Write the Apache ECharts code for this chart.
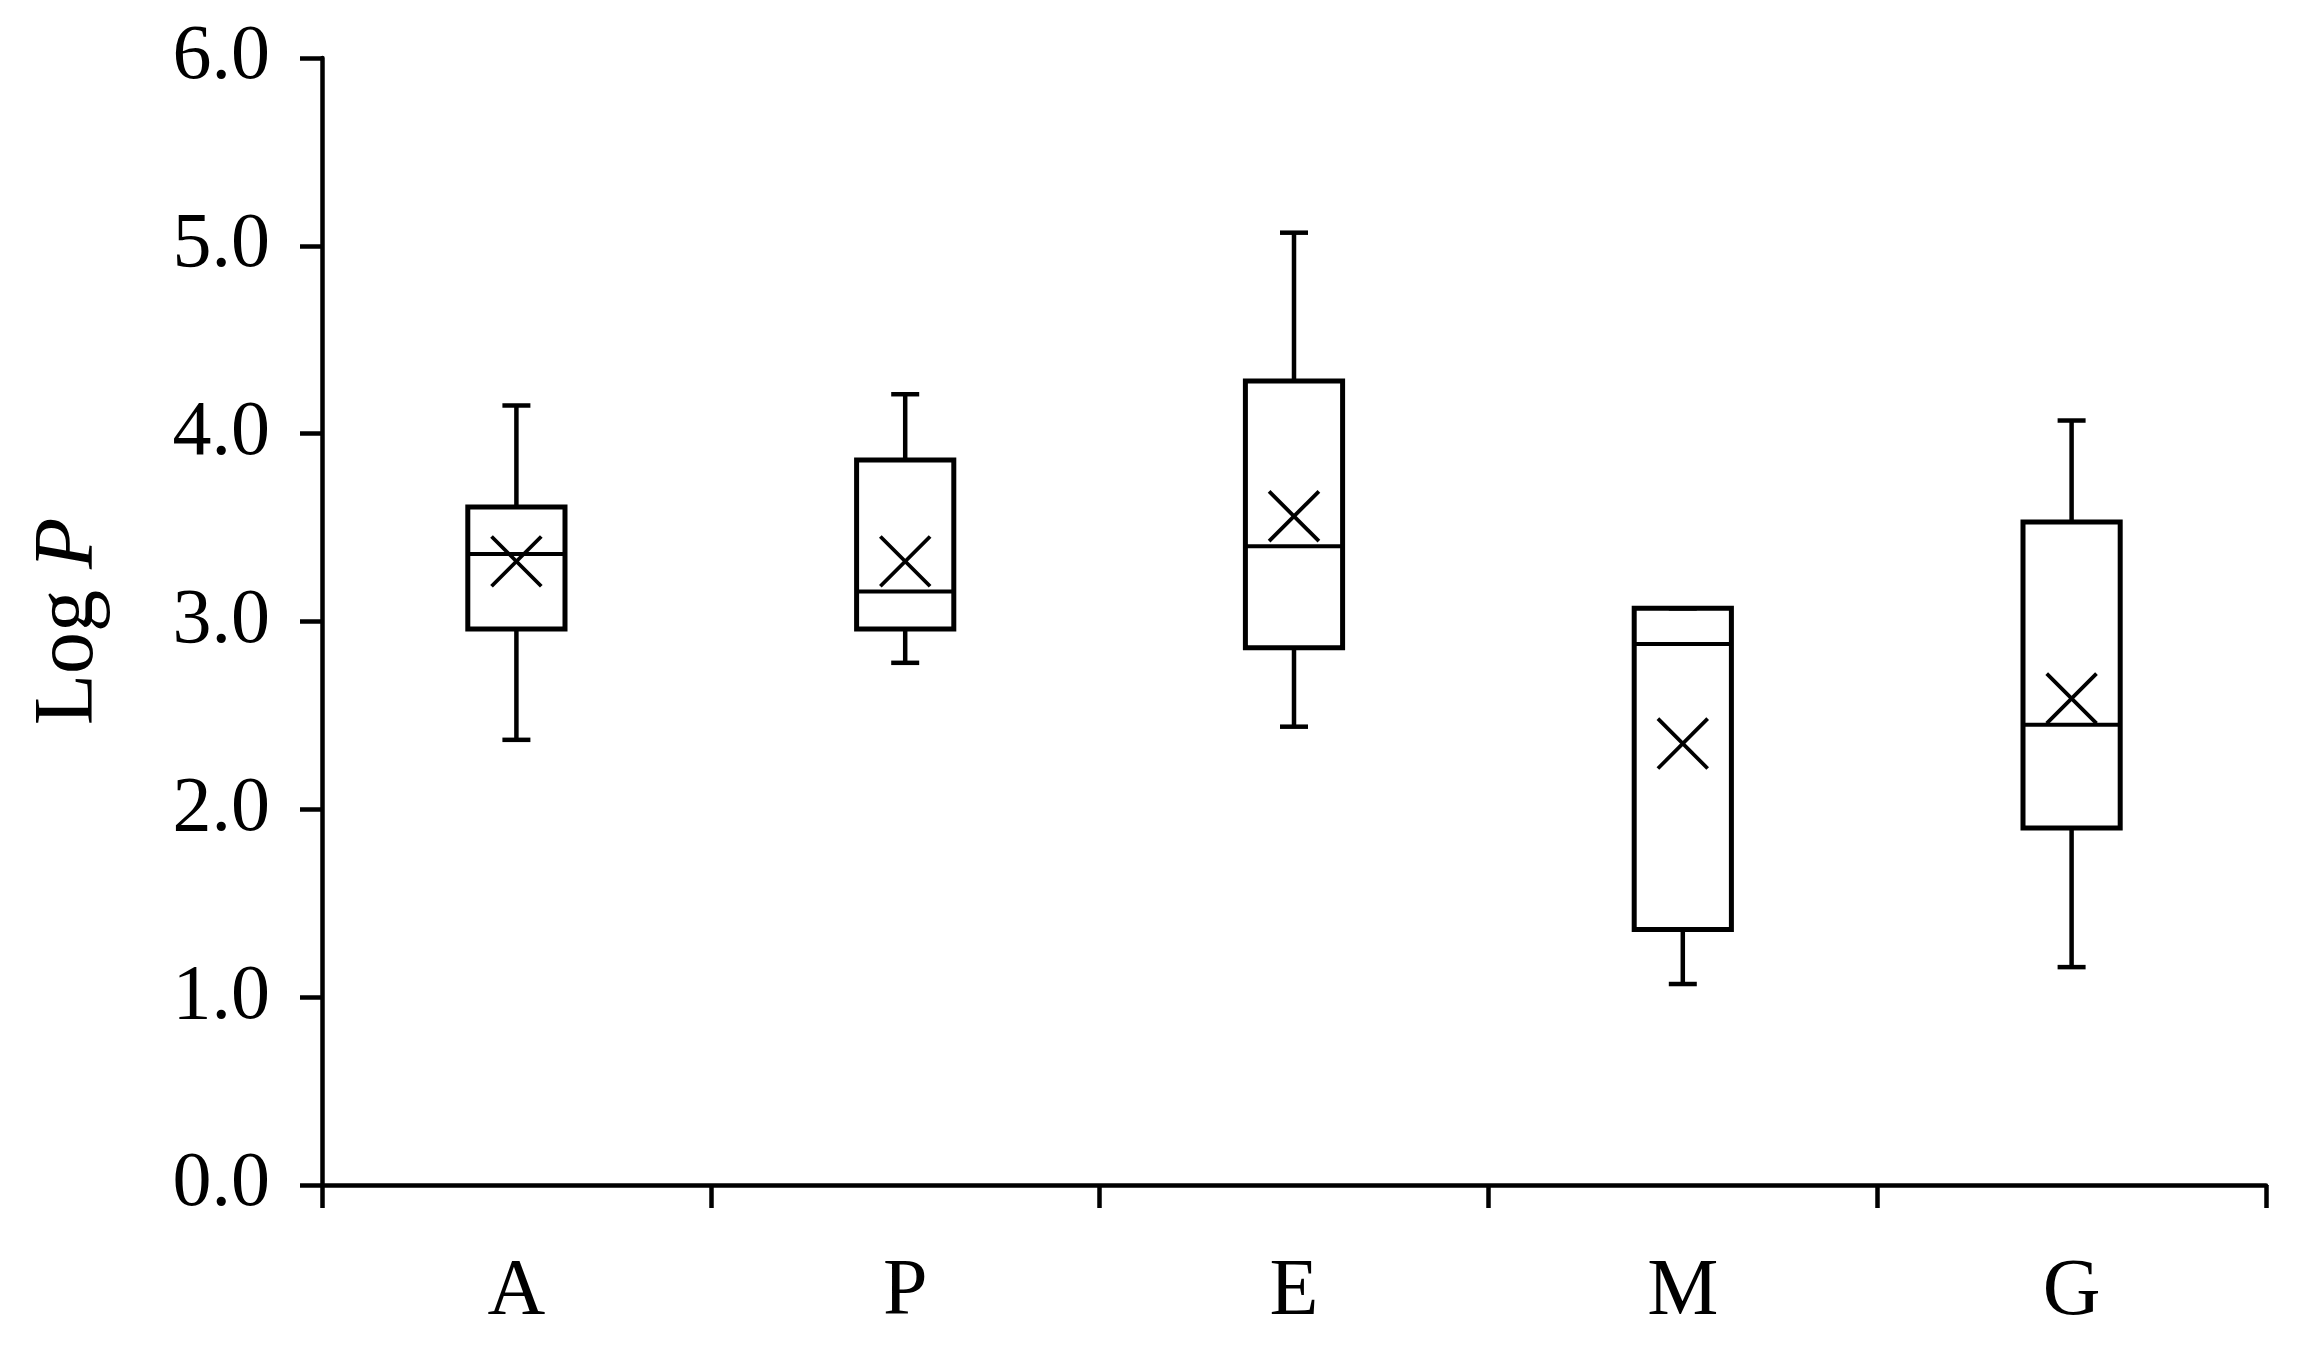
<!DOCTYPE html>
<html>
<head>
<meta charset="utf-8">
<script src="https://cdn.jsdelivr.net/npm/echarts/dist/echarts.min.js"></script>
<style>
  html, body { margin: 0; padding: 0; background: #fff; }
  #chart { width: 2300px; height: 1351px; }
</style>
</head>
<body>
<div id="chart"></div>
<script>
var categories = ['A', 'P', 'E', 'M', 'G'];
var minValues = [2.37, 2.78, 2.44, 1.07, 1.16];
var q1Values = [2.96, 2.96, 2.86, 1.36, 1.90];
var medianValues = [3.36, 3.16, 3.40, 2.88, 2.45];
var q3Values = [3.61, 3.86, 4.28, 3.07, 3.53];
var maxValues = [4.15, 4.21, 5.07, 3.07, 4.07];
var meanValues = [3.32, 3.32, 3.56, 2.35, 2.59];
var yTicks = [0, 1, 2, 3, 4, 5, 6];

var boxData = [];
for (var i = 0; i < categories.length; i++) {
    boxData.push([i, minValues[i], q1Values[i], medianValues[i], q3Values[i], maxValues[i], meanValues[i]]);
}

var font = 'Liberation Serif';

function line(x1, y1, x2, y2, w) {
    return {
        type: 'line',
        shape: {x1: x1, y1: y1, x2: x2, y2: y2},
        style: {stroke: '#000', lineWidth: w, lineCap: 'butt'}
    };
}

function renderBox(params, api) {
    var idx = api.value(0);
    var band = api.size([1, 0])[0];
    var half = band * 0.125;
    var cap = band * 0.036;
    var mark = band * 0.064;
    var pMin = api.coord([idx, api.value(1)]);
    var pQ1 = api.coord([idx, api.value(2)]);
    var pMed = api.coord([idx, api.value(3)]);
    var pQ3 = api.coord([idx, api.value(4)]);
    var pMax = api.coord([idx, api.value(5)]);
    var pMean = api.coord([idx, api.value(6)]);
    var x = pMin[0];
    return {
        type: 'group',
        children: [
            line(x, pMax[1], x, pQ3[1], 4.5),
            line(x, pQ1[1], x, pMin[1], 4.5),
            line(x - cap, pMax[1], x + cap, pMax[1], 4.5),
            line(x - cap, pMin[1], x + cap, pMin[1], 4.5),
            {
                type: 'rect',
                shape: {x: x - half, y: pQ3[1], width: half * 2, height: pQ1[1] - pQ3[1]},
                style: {fill: 'rgba(0,0,0,0)', stroke: '#000', lineWidth: 5}
            },
            line(x - half, pMed[1], x + half, pMed[1], 4),
            line(x - mark, pMean[1] - mark, x + mark, pMean[1] + mark, 3.8),
            line(x - mark, pMean[1] + mark, x + mark, pMean[1] - mark, 3.8)
        ]
    };
}

var myChart = echarts.init(document.getElementById('chart'));
var option = {
    backgroundColor: '#fff',
    animation: false,
    grid: {left: 322, right: 34, top: 58, bottom: 166},
    xAxis: {
        type: 'category',
        data: categories,
        axisLine: {lineStyle: {color: '#000', width: 4.5}},
        axisTick: {show: true, length: 23, lineStyle: {color: '#000', width: 4.5}},
        axisLabel: {fontFamily: font, fontSize: 80, color: '#000', margin: 68},
        splitLine: {show: false}
    },
    yAxis: {
        type: 'value',
        min: yTicks[0],
        max: yTicks[yTicks.length - 1],
        interval: 1,
        name: '{n|Log }{i|P}',
        nameLocation: 'middle',
        nameRotate: 90,
        nameGap: 210,
        nameTextStyle: {
            fontFamily: font,
            fontSize: 84,
            color: '#000',
            rich: {
                n: {fontFamily: font, fontSize: 84, color: '#000'},
                i: {fontFamily: font, fontSize: 84, color: '#000', fontStyle: 'italic'}
            }
        },
        axisLine: {show: true, lineStyle: {color: '#000', width: 4.5}},
        axisTick: {show: true, length: 22, lineStyle: {color: '#000', width: 4.5}},
        axisLabel: {
            fontFamily: font, fontSize: 78, color: '#000', margin: 52,
            formatter: function (v) { return v.toFixed(1); }
        },
        splitLine: {show: false}
    },
    series: [{
        type: 'custom',
        renderItem: renderBox,
        encode: {x: 0, y: [1, 2, 3, 4, 5, 6]},
        data: boxData
    }]
};
option && myChart.setOption(option);
</script>
</body>
</html>
